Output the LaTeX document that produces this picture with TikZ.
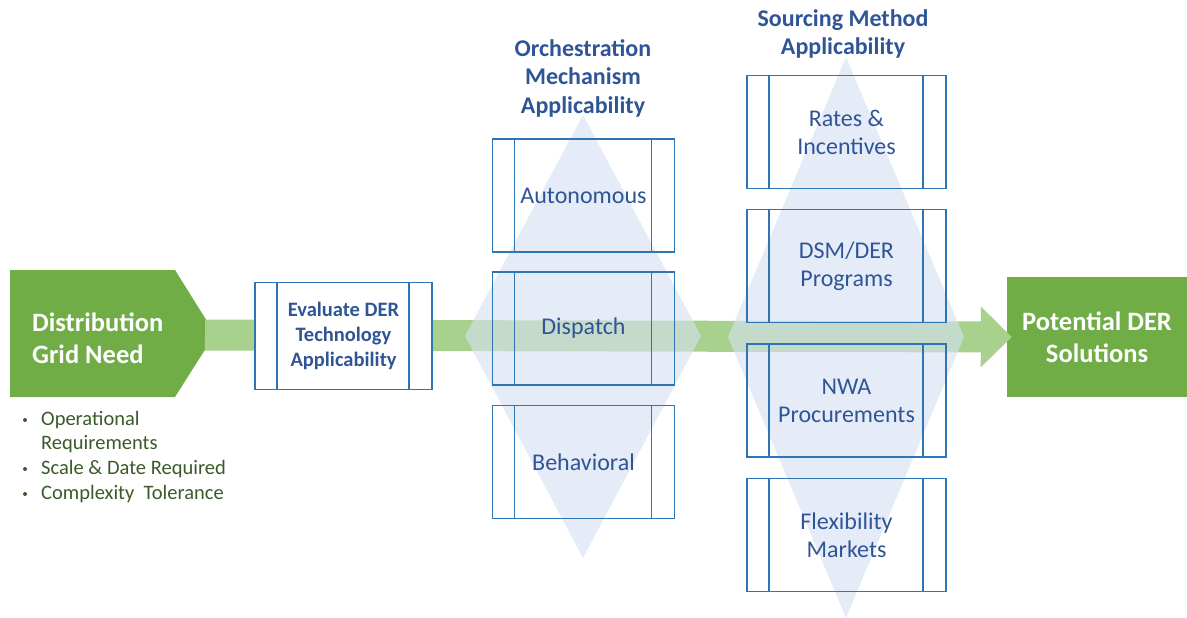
\documentclass[tikz,border=0pt]{standalone}
\usepackage{fontspec}
\setmainfont{Carlito}
\usetikzlibrary{arrows.meta}
\definecolor{leafgreen}{HTML}{70AD47}
\definecolor{bargreen}{HTML}{A9D18E}
\definecolor{paleblue}{HTML}{D6E0F2}
\definecolor{edgeblue}{HTML}{2E75B6}
\definecolor{inkblue}{HTML}{2F5597}
\definecolor{noteink}{HTML}{3B5A2A}
\tikzset{
  x=1pt, y=-1pt,
  lanebox/.style={draw=edgeblue, line width=1.7pt, inner sep=0pt,
    minimum width=#1, minimum height=113pt, align=center, text=inkblue,
    font=\fontsize{24}{28}\selectfont,
    path picture={
      \draw[edgeblue, line width=1.7pt]
        ([xshift=22pt]path picture bounding box.north west) --
        ([xshift=22pt]path picture bounding box.south west)
        ([xshift=-23pt]path picture bounding box.north east) --
        ([xshift=-23pt]path picture bounding box.south east);}},
  lanebox/.default=182pt,
  heading/.style={align=center, text=inkblue,
    font=\bfseries\fontsize{24}{28.5}\selectfont},
  greentext/.style={text=white, font=\bfseries\fontsize{26.5}{32}\selectfont},
  haze/.style={fill=paleblue, fill opacity=0.62},
  note/.style={anchor=west, text=noteink, font=\fontsize{20.5}{25}\selectfont, inner sep=0pt},
  dot/.style={circle, fill=noteink, inner sep=0pt, minimum size=4pt}
}
\begin{document}
\begin{tikzpicture}
\useasboundingbox (0,0) rectangle (1187,618);

% start and end blocks
\fill[leafgreen] (10,270) -- (175,270) -- (215,334) -- (175,397) -- (10,397) -- cycle;
\node[greentext, anchor=west, align=left, inner sep=0pt] (need) at (32,338)
  {Distribution\\Grid Need};
\coordinate (needtip) at (205,335);
\node[fill=leafgreen, minimum width=180pt, minimum height=120pt, inner sep=0pt]
  (final) at (1097,337) {};
\node[greentext, align=center] (finaltext) at (final.center) {Potential DER\\Solutions};

% main flow bar
\draw[bargreen, line width=31pt, -{Triangle[length=31pt, width=59pt]}]
  (needtip) -- ([xshift=5pt]final.west);

% translucent applicability diamonds
\fill[haze] (583,115) -- (701,336) -- (583,558) -- (465,336) -- cycle;
\fill[haze] (846,57) -- (964,337) -- (846,618) -- (728,337) -- cycle;

% evaluation step
\node[lanebox=177pt, minimum height=107pt, fill=white,
  font=\bfseries\fontsize{20.5}{25}\selectfont] (eval) at (343.5,336)
  {Evaluate DER\\Technology\\Applicability};

% orchestration mechanisms
\node[heading] (orchhead) at (583,78) {Orchestration\\Mechanism\\Applicability};
\node[lanebox] (auto) at (583.5,195.5) {Autonomous};
\node[lanebox] (disp) at (583.5,328.5) {Dispatch};
\node[lanebox] (behav) at (583.5,462) {Behavioral};

% sourcing methods
\node[heading] (srchead) at (843,34) {Sourcing Method\\Applicability};
\node[lanebox=199pt] (rates) at (846.5,132) {Rates \&\\Incentives};
\node[lanebox=199pt] (dsm) at (846.5,266) {DSM/DER\\Programs};
\node[lanebox=199pt] (nwa) at (846.5,400.5) {NWA\\Procurements};
\node[lanebox=199pt] (flex) at (846.5,535) {Flexibility\\Markets};

% grid need attributes
\node[dot] (b1) at (25,420) {};
\node[note] (t1) at (41,420) {Operational};
\node[note] (t1b) at (41,444.5) {Requirements};
\node[dot] (b2) at (25,469) {};
\node[note] (t2) at (41,469) {Scale \& Date Required};
\node[dot] (b3) at (25,494) {};
\node[note] (t3) at (41,494) {Complexity\ \ Tolerance};
\end{tikzpicture}
\end{document}
